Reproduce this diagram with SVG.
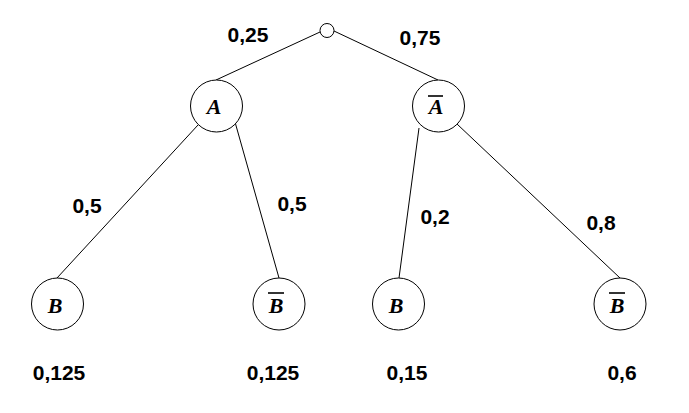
<svg xmlns="http://www.w3.org/2000/svg" width="689" height="413" viewBox="0 0 689 413">
<style>
.n{fill:#fff;stroke:#000;stroke-width:1}
.e{stroke:#000;stroke-width:1;fill:none}
.p{font-family:"Liberation Sans",Arial,sans-serif;font-weight:bold;font-size:21px;text-anchor:middle;fill:#000}
.v{font-family:"Liberation Serif","Times New Roman",serif;font-weight:bold;font-style:italic;font-size:22px;text-anchor:middle;fill:#000}
.bar{stroke:#000;stroke-width:1.6}
</style>
<rect width="689" height="413" fill="#fff"/>
<g id="connectors">
<line class="e" x1="320" y1="32" x2="216" y2="80"/>
<line class="e" x1="334" y1="31" x2="438" y2="80"/>
<line class="e" x1="198" y1="125" x2="57" y2="278"/>
<line class="e" x1="235" y1="122" x2="279" y2="278"/>
<line class="e" x1="419" y1="128" x2="399" y2="278"/>
<line class="e" x1="457" y1="124" x2="620" y2="278"/>
</g>
<g id="labels">
<text class="p" x="248" y="42">0,25</text>
<text class="p" x="420" y="45">0,75</text>
<text class="p" x="87" y="213">0,5</text>
<text class="p" x="292" y="211">0,5</text>
<text class="p" x="435" y="224">0,2</text>
<text class="p" x="601" y="230">0,8</text>
<text class="p" x="59" y="380">0,125</text>
<text class="p" x="273" y="380">0,125</text>
<text class="p" x="407" y="380">0,15</text>
<text class="p" x="622" y="380">0,6</text>
</g>
<g id="root"><circle class="n" cx="327" cy="30.5" r="7"/></g>
<g id="nodeA"><circle class="n" cx="216.5" cy="106" r="26"/><text class="v" x="214" y="114">A</text></g>
<g id="nodeAbar"><circle class="n" cx="438.5" cy="106" r="26"/><text class="v" x="436" y="114">A</text><line class="bar" x1="428" y1="96" x2="443" y2="96"/></g>
<g id="nodeB1"><circle class="n" cx="57.5" cy="304" r="26"/><text class="v" x="55" y="313">B</text></g>
<g id="nodeBbar1"><circle class="n" cx="279" cy="304" r="26"/><text class="v" x="276" y="313">B</text><line class="bar" x1="268" y1="293" x2="284" y2="293"/></g>
<g id="nodeB2"><circle class="n" cx="398.5" cy="304" r="26"/><text class="v" x="396" y="313">B</text></g>
<g id="nodeBbar2"><circle class="n" cx="620" cy="304" r="26"/><text class="v" x="617" y="313">B</text><line class="bar" x1="609" y1="293" x2="625" y2="293"/></g>
</svg>
